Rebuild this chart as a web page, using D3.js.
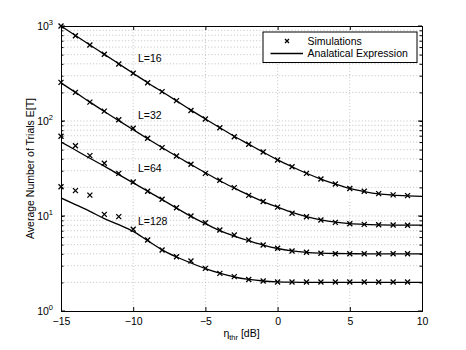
<!DOCTYPE html>
<html>
<head>
<meta charset="utf-8">
<style>
  body { margin: 0; background: #fff; }
  svg { font-family: "Liberation Sans", Arial, sans-serif; }
</style>
</head>
<body>
<div id="chart"></div>
<script src="https://cdn.jsdelivr.net/npm/d3@7"></script>
<script>
// threshold values (dB)
const simX = d3.range(-15, 10)          // -15 .. 9, simulation points
const lineX = d3.range(-15, 11)         // -15 .. 10, analytic curve points

// simulations
const simL16 = [1000, 791, 631, 504, 398, 318, 253, 204, 164, 129, 105, 85, 68.4, 56.9, 47.2, 38.8, 33, 28.1, 24.5, 21.7, 19.5, 18.2, 17.2, 16.7, 16.4]
const simL32 = [255, 200, 158, 127, 103, 84, 65.8, 52.4, 42.9, 35.0, 28.1, 23.8, 19.9, 16.5, 14.2, 12.4, 10.7, 9.84, 9.08, 8.57, 8.3, 8.17, 8.1, 8.04, 8.0]
const simL64 = [69, 55, 43.2, 35.9, 28.1, 22.8, 18.2, 15.0, 12.2, 10.0, 8.5, 7.12, 6.3, 5.59, 4.95, 4.57, 4.28, 4.15, 4.05, 4.0, 4.0, 4.0, 4.0, 4.0, 4.0]
const simL128 = [20.3, 18.5, 16.6, 10.4, 9.85, 7.24, 5.59, 4.38, 3.73, 3.36, 2.81, 2.49, 2.30, 2.15, 2.07, 2.02, 2.02, 2.02, 2.02, 2.02, 2.02, 2.02, 2.02, 2.02, 2.02]

// analytical expression
const anaL16 = [1000, 795, 632, 503, 400, 318, 253, 203, 163, 130, 105, 85, 69, 57, 47, 39, 33, 28.2, 24.5, 21.7, 19.5, 18.1, 17.1, 16.6, 16.3, 16.1]
const anaL32 = [252, 200, 158, 126, 101, 81, 65, 52.5, 42.5, 34.8, 28.5, 23.5, 19.7, 16.6, 14.2, 12.4, 10.9, 9.85, 9.1, 8.6, 8.3, 8.15, 8.07, 8.03, 8.01, 8.0]
const anaL64 = [60, 49.5, 40.5, 33.5, 27.3, 22.3, 18.3, 14.9, 12.1, 9.9, 8.3, 7.0, 6.15, 5.5, 4.95, 4.55, 4.3, 4.15, 4.07, 4.03, 4.01, 4.0, 4.0, 4.0, 4.0, 4.0]
const anaL128 = [15.5, 13.2, 11.2, 9.4, 8.1, 6.9, 5.5, 4.4, 3.7, 3.2, 2.8, 2.5, 2.28, 2.15, 2.07, 2.03, 2.01, 2.0, 2.0, 2.0, 2.0, 2.0, 2.0, 2.0, 2.0, 2.0]

const curveLabels = ['L=16', 'L=32', 'L=64', 'L=128']
const labelPos = [[-9.67, 460], [-9.67, 116], [-9.67, 32], [-9.67, 8.85]]

const xTicks = [-15, -10, -5, 0, 5, 10]
const yDecades = [1, 10, 100, 1000]

const W = 466, H = 350
const margin = {top: 26, right: 44, bottom: 39, left: 61}
const w = W - margin.left - margin.right
const h = H - margin.top - margin.bottom

const svg = d3.select('#chart').append('svg')
  .attr('width', W)
  .attr('height', H)

const g = svg.append('g')
  .attr('transform', `translate(${margin.left},${margin.top})`)

const x = d3.scaleLinear().domain([-15, 10]).range([0, w])
const y = d3.scaleLog().domain([1, 1000]).range([h, 0])

// all log ticks 1..9 x 10^k
const yMinor = []
for (let k = 0; k < 3; k++) {
  for (let m = 1; m < 10; m++) yMinor.push(m * Math.pow(10, k))
}
yMinor.push(1000)

// grid
const grid = g.append('g').attr('class', 'grid')
grid.selectAll('line.v')
  .data(xTicks.slice(1, -1))
  .enter().append('line')
  .attr('x1', d => x(d)).attr('x2', d => x(d))
  .attr('y1', 0).attr('y2', h)
grid.selectAll('line.h')
  .data(yMinor.filter(d => d > 1 && d < 1000))
  .enter().append('line')
  .attr('x1', 0).attr('x2', w)
  .attr('y1', d => y(d)).attr('y2', d => y(d))
grid.selectAll('line')
  .attr('stroke', '#b4b4b4')
  .attr('stroke-width', 0.8)
  .attr('stroke-dasharray', '1,2.2')

// axes, ticks inside like matlab
const xAxisB = d3.axisBottom(x).tickValues(xTicks).tickSize(-4).tickPadding(7)
  .tickFormat(d => d < 0 ? '\u2212' + Math.abs(d) : d)
const xAxisT = d3.axisTop(x).tickValues(xTicks).tickSize(-4).tickFormat('')

g.append('g').attr('transform', `translate(0,${h})`).call(xAxisB)
g.append('g').call(xAxisT)

const yAxisL = d3.axisLeft(y).tickValues(yMinor).tickFormat('')
  .tickSize(-2.5)
const yAxisR = d3.axisRight(y).tickValues(yMinor).tickFormat('')
  .tickSize(-2.5)
g.append('g').call(yAxisL)
g.append('g').attr('transform', `translate(${w},0)`).call(yAxisR)

// longer ticks at decades
g.selectAll('.ydec')
  .data(yDecades)
  .enter().append('line')
  .attr('x1', 0).attr('x2', 4)
  .attr('y1', d => y(d)).attr('y2', d => y(d))
  .attr('stroke', '#000')
g.selectAll('.ydecr')
  .data(yDecades)
  .enter().append('line')
  .attr('x1', w).attr('x2', w - 4)
  .attr('y1', d => y(d)).attr('y2', d => y(d))
  .attr('stroke', '#000')

g.selectAll('.domain').attr('stroke', '#000')
g.selectAll('.tick line').attr('stroke', '#000')
g.selectAll('.tick text').attr('font-size', 10.5).attr('fill', '#000')
  .attr('font-family', '"Liberation Sans", Arial, sans-serif')

// y decade labels 10^k
const ylab = g.selectAll('.ylab')
  .data(yDecades)
  .enter().append('text')
  .attr('x', -8)
  .attr('y', d => y(d) + 4)
  .attr('text-anchor', 'end')
  .attr('font-size', 10.5)
ylab.append('tspan').text('10')
ylab.append('tspan')
  .attr('dy', -5)
  .attr('font-size', 7.5)
  .text(d => Math.round(Math.log10(d)))

// analytic curves
const anaSeries = [anaL16, anaL32, anaL64, anaL128]
const simSeries = [simL16, simL32, simL64, simL128]

const line = d3.line()
  .x((d, i) => x(lineX[i]))
  .y(d => y(d))
  .curve(d3.curveMonotoneX)

g.append('defs').append('clipPath').attr('id', 'clip')
  .append('rect').attr('width', w).attr('height', h)

g.selectAll('.ana')
  .data(anaSeries)
  .enter().append('path')
  .attr('clip-path', 'url(#clip)')
  .attr('d', line)
  .attr('fill', 'none')
  .attr('stroke', '#000')
  .attr('stroke-width', 1.3)

// simulation markers 'x'
const cross = 'M-2.5,-2.5L2.5,2.5M-2.5,2.5L2.5,-2.5'
simSeries.forEach(s => {
  g.append('g').selectAll('path')
    .data(s)
    .enter().append('path')
    .attr('transform', (d, i) => `translate(${x(simX[i])},${y(d)})`)
    .attr('d', cross)
    .attr('stroke', '#000')
    .attr('stroke-width', 1.3)
    .attr('fill', 'none')
})

// curve labels
g.selectAll('.clab')
  .data(curveLabels)
  .enter().append('text')
  .attr('x', (d, i) => x(labelPos[i][0]))
  .attr('y', (d, i) => y(labelPos[i][1]) + 4)
  .attr('font-size', 10.5)
  .text(d => d)

// legend
const leg = g.append('g').attr('transform', `translate(${263 - margin.left},${32 - margin.top})`)
leg.append('rect')
  .attr('width', 154).attr('height', 30.5)
  .attr('fill', '#fff').attr('stroke', '#000').attr('stroke-width', 1)
leg.append('path')
  .attr('transform', 'translate(24,9)')
  .attr('d', 'M-2,-2L2,2M-2,2L2,-2')
  .attr('stroke', '#000').attr('stroke-width', 1.3)
leg.append('line')
  .attr('x1', 7.5).attr('x2', 40).attr('y1', 21.5).attr('y2', 21.5)
  .attr('stroke', '#000').attr('stroke-width', 1.3)
leg.append('text').attr('x', 44.5).attr('y', 12.8).attr('font-size', 10.5).text('Simulations')
leg.append('text').attr('x', 44.5).attr('y', 25.3).attr('font-size', 10.5).text('Analatical Expression')

// axis titles
const xt = svg.append('text')
  .attr('x', margin.left + w / 2)
  .attr('y', 337)
  .attr('text-anchor', 'middle')
  .attr('font-size', 10.5)
xt.append('tspan').text('\u03b7')
xt.append('tspan').attr('dy', 3).attr('font-size', 7.5).text('thr')
xt.append('tspan').attr('dy', -3).text(' [dB]')

svg.append('text')
  .attr('transform', `translate(34,${margin.top + h / 2}) rotate(-90)`)
  .attr('text-anchor', 'middle')
  .attr('font-size', 10.5)
  .text('Average Number of Trials E[T]')
</script>
</body>
</html>
